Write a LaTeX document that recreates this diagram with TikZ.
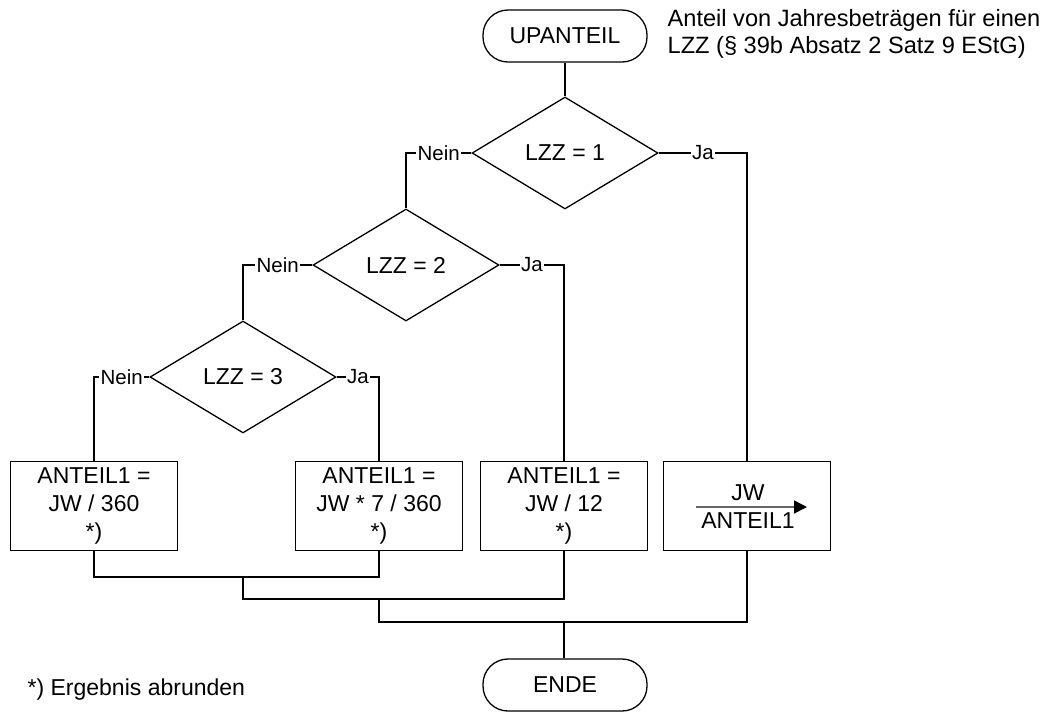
\documentclass[tikz,border=0pt]{standalone}
\usepackage{fontspec}
\setmainfont{Liberation Sans}
\usetikzlibrary{shapes.geometric,arrows.meta}

\begin{document}
\begin{tikzpicture}[x=1pt, y=-1pt, line width=1.3pt,
    every node/.style={font=\fontsize{23}{28}\selectfont},
    terminal/.style={draw, rounded corners=25pt, minimum width=164pt, minimum height=52pt},
    decision/.style={draw, diamond, aspect=1.66, minimum width=186pt, minimum height=112pt, inner sep=0pt},
    process/.style={draw, rectangle, minimum width=167pt, minimum height=89pt, align=center, inner sep=2pt},
    answer/.style={fill=white, inner sep=1.5pt, font=\fontsize{20.5}{24}\selectfont}]

    \useasboundingbox (0,0) rectangle (1044,713);

    % Start, end and note
    \node[terminal] (upanteil) at (565,36) {UPANTEIL};
    \node[terminal] (ende) at (565,685) {ENDE};
    \node[anchor=north west, align=left, inner sep=0pt, font=\fontsize{23.6}{27}\selectfont] (note) at (667,9)
      {Anteil von Jahresbeträgen für einen\\LZZ (§ 39b Absatz 2 Satz 9 EStG)};

    % Decisions
    \node[decision] (lzz1) at (565,153) {LZZ = 1};
    \node[decision] (lzz2) at (406,265) {LZZ = 2};
    \node[decision] (lzz3) at (243,377) {LZZ = 3};

    % Boxes
    \node[process] (teil360) at (94,506)  {ANTEIL1 =\\JW / 360\\*)};
    \node[process] (teil7)   at (379,506) {ANTEIL1 =\\JW * 7 / 360\\*)};
    \node[process] (teil12)  at (564,506) {ANTEIL1 =\\JW / 12\\*)};
    \node[process] (teiljw)  at (747,506) {};

    % Fraction in the last box
    \node (jw) at (748,493) {JW};
    \node (anteil) at (748,521) {ANTEIL1};
    \coordinate (barl) at (696,507);
    \coordinate (barr) at (807,507);
    \draw[black!60, line width=1.5pt, -{Triangle[length=13pt, width=13pt, color=black]}] (barl) -- (barr);

    % Branches
    \draw (upanteil) -- (lzz1);
    \draw (lzz1.west) -| node[answer, pos=0.25] {Nein} (lzz2.north);
    \draw (lzz1.east) -| node[answer, pos=0.25] {Ja} (teiljw.north);
    \draw (lzz2.west) -| node[answer, pos=0.25] {Nein} (lzz3.north);
    \draw (lzz2.east) -| node[answer, pos=0.25] {Ja} (teil12.north);
    \draw (lzz3.west) -| node[answer, pos=0.25] {Nein} (teil360.north);
    \draw (lzz3.east) -| node[answer, pos=0.25] {Ja} (teil7.north);

    % Joining lines
    \coordinate (join1) at (243,577);
    \coordinate (join2) at (379,599);
    \coordinate (join3) at (564,622);
    \draw (teil360.south) |- (join1) -| (teil7.south);
    \draw (join1) |- (join2) -| (teil12.south);
    \draw (join2) |- (join3) -| (teiljw.south);
    \draw (join3) -- (join3 |- ende.north);

    % Footnote
    \node[anchor=west, inner sep=0pt] (fussnote) at (27,690) {*) Ergebnis abrunden};

\end{tikzpicture}
\end{document}
